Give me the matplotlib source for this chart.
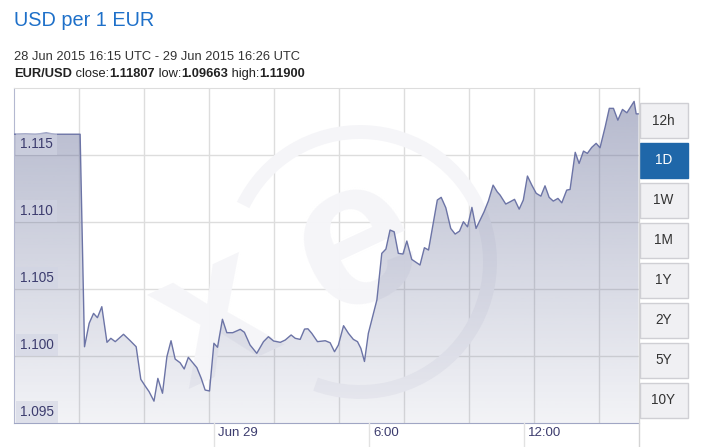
"""
EUR/USD 1D chart (xe.com style)
"""
import numpy as np
import matplotlib
matplotlib.use("Agg")
import matplotlib.pyplot as plt
from matplotlib.patches import Polygon, Rectangle, Arc
from matplotlib.transforms import IdentityTransform, blended_transform_factory

# hours relative to 29 Jun 2015 00:00 UTC
times = [-7.75, -7.32, -6.93, -6.50, -6.15, -5.57, -5.19, -5.02, -4.84, -4.67,
         -4.52, -4.35, -4.15, -4.00, -3.83, -3.51, -3.25, -3.02, -2.84, -2.67,
         -2.52, -2.33, -2.18, -2.00, -1.83, -1.67, -1.51, -1.32, -1.16, -1.00,
         -0.67, -0.50, -0.35, -0.18, -0.01, 0.13, 0.32, 0.49, 0.72, 1.01,
         1.17, 1.39, 1.65, 1.91, 2.10, 2.30, 2.56, 2.75, 2.98, 3.14,
         3.33, 3.50, 3.63, 3.78, 4.00, 4.30, 4.49, 4.66, 4.81, 5.01,
         5.20, 5.39, 5.55, 5.68, 5.82, 5.97, 6.30, 6.49, 6.65, 6.81,
         6.97, 7.13, 7.31, 7.46, 7.65, 7.97, 8.14, 8.30, 8.64, 8.79,
         8.97, 9.16, 9.33, 9.50, 9.65, 9.81, 9.98, 10.14, 10.45, 10.62,
         10.80, 10.96, 11.07, 11.29, 11.46, 11.63, 11.81, 11.97, 12.13, 12.30,
         12.47, 12.65, 12.81, 12.97, 13.13, 13.31, 13.46, 13.65, 13.78, 13.98,
         14.13, 14.30, 14.45, 14.62, 14.79, 14.94, 15.14, 15.30, 15.46, 15.63,
         15.81, 15.98, 16.26, 16.34, 16.43]
rates = [1.11655, 1.11659, 1.11655, 1.11664, 1.11655, 1.11655, 1.11655, 1.10069, 1.10244, 1.10318,
         1.10286, 1.10368, 1.10102, 1.10132, 1.10107, 1.10162, 1.10114, 1.10069, 1.09826, 1.09776,
         1.09734, 1.09663, 1.09833, 1.09722, 1.09995, 1.10114, 1.09977, 1.09950, 1.09903, 1.09990,
         1.09913, 1.09833, 1.09746, 1.09739, 1.10095, 1.10065, 1.10274, 1.10174, 1.10174, 1.10199,
         1.10177, 1.10082, 1.10020, 1.10107, 1.10144, 1.10112, 1.10102, 1.10119, 1.10157, 1.10132,
         1.10124, 1.10201, 1.10203, 1.10169, 1.10107, 1.10114, 1.10099, 1.10032, 1.10082, 1.10226,
         1.10169, 1.10124, 1.10107, 1.10057, 1.09959, 1.10169, 1.10418, 1.10766, 1.10798, 1.10940,
         1.10927, 1.10766, 1.10761, 1.10858, 1.10721, 1.10679, 1.10808, 1.10791, 1.11164, 1.11184,
         1.11106, 1.10952, 1.10910, 1.10932, 1.11002, 1.10964, 1.11109, 1.10952, 1.11076, 1.11158,
         1.11275, 1.11225, 1.11201, 1.11134, 1.11151, 1.11169, 1.11096, 1.11164, 1.11343, 1.11275,
         1.11214, 1.11193, 1.11270, 1.11184, 1.11156, 1.11176, 1.11143, 1.11238, 1.11243, 1.11520,
         1.11437, 1.11529, 1.11512, 1.11557, 1.11587, 1.11554, 1.11710, 1.11848, 1.11848, 1.11760,
         1.11840, 1.11815, 1.11900, 1.11807, 1.11807]

y_ticks = [1.095, 1.100, 1.105, 1.110, 1.115]
x_tick_times = [0, 6, 12]
x_tick_labels = ["Jun 29", "6:00", "12:00"]
buttons = ["12h", "1D", "1W", "1M", "1Y", "2Y", "5Y", "10Y"]
active_button = "1D"

title = "USD per 1 EUR"
period = "28 Jun 2015 16:15 UTC - 29 Jun 2015 16:26 UTC"
stats = [("EUR/USD", "bold"), (" close:", "normal"), ("1.11807", "bold"),
         (" low:", "normal"), ("1.09663", "bold"), (" high:", "normal"),
         ("1.11900", "bold")]

plt.rcParams['font.family'] = ['Liberation Sans', 'DejaVu Sans']

W, H = 701, 447
t0, t1 = times[0], times[-1]
y0, y1 = 1.095, 1.120


def fx(px):
    return px / W


def fy(py):
    return 1 - py / H


fig = plt.figure(figsize=(W / 100, H / 100), dpi=100)
ax = fig.add_axes([fx(14), fy(423), fx(624.5), 335 / H])
ax.set_xlim(t0, t1)
ax.set_ylim(y0, y1)

# watermark (faint xe logo)
wm = '#f5f5f8'
ax.add_patch(Arc((360, H - 262), 260, 260, theta1=-110, theta2=154,
                 lw=10, color=wm, transform=IdentityTransform(), zorder=0.5))
ax.text(357, H - 245, "e", transform=IdentityTransform(), fontsize=150,
        fontweight='bold', color=wm, rotation=25, ha='center', va='center', zorder=0.5)
ax.text(215, H - 320, "x", transform=IdentityTransform(), fontsize=140,
        fontweight='bold', color=wm, rotation=25, ha='center', va='center', zorder=0.5)

# grid
grid_c = '#dddddd'
for v in y_ticks[1:]:
    ax.axhline(v, color=grid_c, lw=1, zorder=0.4)
grid_step = 2.516
for gx in np.arange(t0 + grid_step, t1, grid_step):
    ax.axvline(gx, color=grid_c, lw=1, zorder=0.4)

# gradient area under the line
grad = np.zeros((256, 1, 4))
grad[..., 0] = 100 / 255
grad[..., 1] = 108 / 255
grad[..., 2] = 150 / 255
grad[..., 3] = np.linspace(0.08, 0.49, 256)[:, None]
im = ax.imshow(grad, extent=[t0, t1, y0, y1], origin='lower', aspect='auto', zorder=1)
verts = np.column_stack([[t0] + times + [t1], [y0] + rates + [y0]])
area = Polygon(verts, closed=True, fc='none', ec='none')
ax.add_patch(area)
im.set_clip_path(area)
ax.plot(times, rates, color='#6c74a6', lw=1.0, zorder=3)

# spines
ax.spines['top'].set_color(grid_c)
ax.spines['right'].set_visible(False)
ax.spines['left'].set_color('#b4b8d0')
ax.spines['bottom'].set_color('#a0a6c4')
ax.set_xticks([])
ax.set_yticks([])

# y labels inside the plot
lab_c = '#3c3c6e'
for v in y_ticks:
    ax.annotate(f"{v:.3f}", xy=(0, v), xycoords=('axes fraction', 'data'),
                xytext=(6, 4), textcoords='offset pixels', fontsize=9.8,
                color=lab_c, ha='left', va='bottom', zorder=4,
                bbox=dict(boxstyle='square,pad=0.3', fc=(0.82, 0.83, 0.89, 0.6), ec='none'))

# x labels below axis
trans = blended_transform_factory(ax.transData, fig.transFigure)
for t, lab in zip(x_tick_times, x_tick_labels):
    fig.add_artist(plt.Line2D([t, t], [0, fy(423)], transform=trans,
                              color='#e2e2e2', lw=1))
    fig.text(t + 0.15, fy(433), lab, transform=trans, fontsize=9.5, color=lab_c,
             ha='left', va='center')
fig.add_artist(plt.Line2D([fx(639), fx(639)], [0, fy(88)], color='#d4d4d4', lw=1))

# header
fig.text(fx(14), fy(26), title, fontsize=14.3, color='#1e70c9', va='baseline')
fig.text(fx(14), fy(60), period, fontsize=9.3, color='#333333', va='baseline')
prev = fig.text(fx(14), fy(77), stats[0][0], fontsize=9.3, color='#222222',
                fontweight=stats[0][1], va='baseline')
for txt, w in stats[1:]:
    prev = ax.annotate(txt, xy=(1, 0), xycoords=prev, fontsize=9.3, color='#222222',
                       fontweight=w, va='bottom', ha='left', annotation_clip=False)

# range buttons
for i, b in enumerate(buttons):
    top = 103 + 40 * i
    active = b == active_button
    fig.add_artist(Rectangle((fx(639.5), fy(top + 35)), fx(48), 35 / H,
                             transform=fig.transFigure,
                             fc='#1f67a9' if active else '#f0f0f3',
                             ec='#1f67a9' if active else '#cfcfd4', lw=1))
    fig.text(fx(663.5), fy(top + 17.5), b, fontsize=9.8,
             color='white' if active else '#333333', ha='center', va='center')

fig.savefig("out.png", dpi=100)
